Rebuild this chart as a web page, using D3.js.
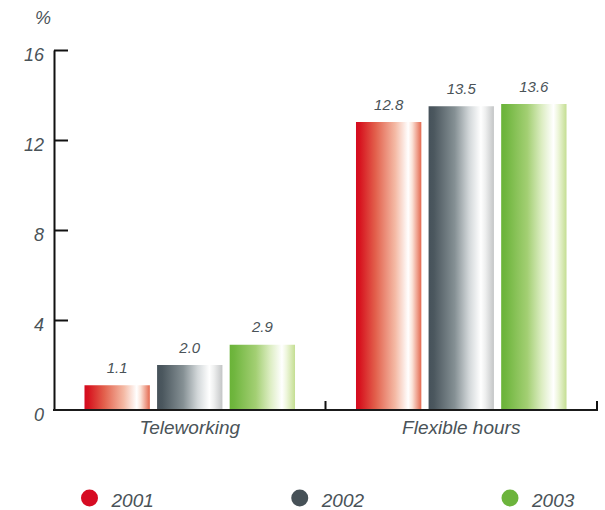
<!DOCTYPE html>
<html>
<head>
<meta charset="utf-8">
<script src="https://cdn.jsdelivr.net/npm/d3@7/dist/d3.min.js"></script>
<style>
  html, body { margin: 0; padding: 0; background: #ffffff; }
  svg { display: block; }
  text { font-family: "Liberation Sans", Arial, Helvetica, sans-serif; font-style: italic; fill: #4a5358; }
</style>
</head>
<body>
<svg id="chart" width="605" height="510"></svg>
<script>
// Share of employees using each arrangement, by year (%)
const categories = ["Teleworking", "Flexible hours"];
const years = ["2001", "2002", "2003"];
const values2001 = [1.1, 12.8];
const values2002 = [2.0, 13.5];
const values2003 = [2.9, 13.6];
const yTicks = [0, 4, 8, 12, 16];

const seriesValues = [values2001, values2002, values2003];
const rows = categories.map((c, i) => ({
  category: c,
  bars: years.map((y, j) => ({ year: y, value: seriesValues[j][i] }))
}));

// Each year: solid swatch colour and the shaded stops used on its bars
const swatch = { "2001": "#d60b22", "2002": "#465157", "2003": "#6cb43c" };
const shading = {
  "2001": [[0, "#d40a20"], [0.06, "#d7141f"], [0.3, "#e2604c"], [0.6, "#f4b9a4"], [0.8, "#ffffff"], [0.86, "#fbe3d8"], [1, "#e4694f"]],
  "2002": [[0, "#46525a"], [0.08, "#4b575e"], [0.4, "#859094"], [0.62, "#d2d7d9"], [0.8, "#ffffff"], [0.87, "#eeefef"], [1, "#c3c5c6"]],
  "2003": [[0, "#6ab338"], [0.07, "#70b63f"], [0.4, "#a3cf73"], [0.62, "#dcedc2"], [0.8, "#ffffff"], [0.87, "#eef6dc"], [1, "#c4de92"]]
};

const svg = d3.select("#chart");
const plotLeft = 54, plotRight = 597, plotTop = 50, plotBottom = 410;

const x0 = d3.scaleBand().domain(categories).range([plotLeft, plotRight]).padding(0);
const x1 = d3.scaleBand().domain(years).range([0, x0.bandwidth()]).paddingInner(0.1).paddingOuter(0.42);
const y = d3.scaleLinear().domain([0, 16]).range([plotBottom, plotTop]);

const defs = svg.append("defs");
years.forEach(yr => {
  const g = defs.append("linearGradient")
    .attr("id", "shade" + yr)
    .attr("x1", "0%").attr("x2", "100%").attr("y1", "0%").attr("y2", "0%");
  shading[yr].forEach(([o, c]) => {
    g.append("stop").attr("offset", o).attr("stop-color", c);
  });
});

// Bars
const groups = svg.append("g").selectAll("g")
  .data(rows)
  .join("g")
  .attr("transform", d => `translate(${x0(d.category)},0)`);

groups.selectAll("rect")
  .data(d => d.bars)
  .join("rect")
  .attr("x", d => x1(d.year))
  .attr("y", d => y(d.value))
  .attr("width", x1.bandwidth())
  .attr("height", d => y(0) - y(d.value))
  .attr("fill", d => `url(#shade${d.year})`);

// Value labels
groups.selectAll("text.value")
  .data(d => d.bars)
  .join("text")
  .attr("class", "value")
  .attr("x", d => x1(d.year) + x1.bandwidth() / 2)
  .attr("y", d => y(d.value) - 12.5)
  .attr("text-anchor", "middle")
  .style("font-size", "15px")
  .text(d => d.value.toFixed(1));

// Y axis with inward ticks
const yAxis = svg.append("g")
  .attr("transform", `translate(${plotLeft},0)`)
  .call(d3.axisLeft(y).tickValues(yTicks).tickFormat(d3.format("d"))
    .tickSizeInner(-14).tickSizeOuter(0).tickPadding(10));
yAxis.select(".domain").attr("stroke", "#111").attr("stroke-width", 2);
yAxis.selectAll(".tick line").attr("stroke", "#111").attr("stroke-width", 2)
  .filter(d => d === 0).remove();
yAxis.selectAll(".tick text")
  .attr("dy", "0.58em")
  .style("font-size", "18px")
  .attr("fill", "#4a5358");
yAxis.attr("font-family", null).attr("font-size", null);

// X axis with category labels
const xAxis = svg.append("g")
  .attr("transform", `translate(0,${plotBottom})`)
  .call(d3.axisBottom(x0).tickSize(0).tickPadding(11));
xAxis.select(".domain").attr("stroke", "#1a1a1a").attr("stroke-width", 2)
  .attr("d", `M${plotLeft - 1},0H${plotRight + 1}`);
xAxis.selectAll(".tick text")
  .style("font-size", "19px")
  .attr("fill", "#4a5358");
xAxis.attr("font-family", null).attr("font-size", null);

// Group separators on the x axis
const dividers = [x0(categories[1]), x0.range()[1]];
svg.append("g").selectAll("line")
  .data(dividers)
  .join("line")
  .attr("x1", d => d).attr("x2", d => d)
  .attr("y1", plotBottom).attr("y2", plotBottom - 9)
  .attr("stroke", "#111").attr("stroke-width", 2);

// Unit label
svg.append("text")
  .attr("x", 35).attr("y", 24)
  .style("font-size", "18px")
  .text("%");

// Legend
const legendX = d3.scalePoint().domain(years).range([89.5, 510]);
const legend = svg.append("g").selectAll("g")
  .data(years)
  .join("g")
  .attr("transform", d => `translate(${legendX(d)},498)`);
legend.append("circle").attr("r", 8.5).attr("fill", d => swatch[d]);
legend.append("text")
  .attr("x", 22).attr("y", 8.5)
  .style("font-size", "19px")
  .text(d => d);
</script>
</body>
</html>
